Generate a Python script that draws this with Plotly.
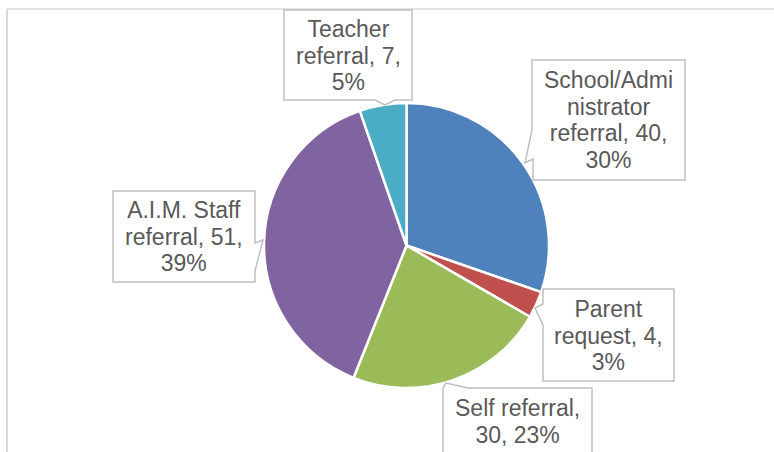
import plotly.graph_objects as go

# ---- data ----
categories = ["School/Administrator referral", "Parent request", "Self referral",
              "A.I.M. Staff referral", "Teacher referral"]
values = [40, 4, 30, 51, 7]
colors = ["#4F81BD", "#C0504D", "#9BBB59", "#8064A2", "#4BACC6"]
# label templates with the line breaks used in the callouts
label_templates = [
    "School/Admi<br>nistrator<br>referral, {v},<br>{p}%",
    "Parent<br>request, {v},<br>{p}%",
    "Self referral,<br>{v}, {p}%",
    "A.I.M. Staff<br>referral, {v},<br>{p}%",
    "Teacher<br>referral, {v},<br>{p}%",
]

W, H = 774, 452


def px(x):
    return x / W


def py(y):
    return (H - y) / H


# callout boxes (pixel geometry: box and pointer outline)
callouts = [
    [(532, 60), (685, 60), (685, 180), (533, 180), (533, 159), (525, 163), (532, 130)],
    [(543, 289), (674, 289), (674, 381), (543, 381), (543, 325), (535, 308), (543, 304)],
    [(443, 388), (446, 383), (468, 388), (592, 388), (592, 470), (443, 470)],
    [(113, 191), (255, 191), (255, 243), (263, 240), (255, 271), (255, 282), (113, 282)],
    [(284, 10), (412, 10), (412, 100), (395, 100), (385, 105), (375, 100), (284, 100)],
]
label_centers = [(608.5, 120), (608.5, 335), (517.5, 421), (184, 236.5), (348, 55)]

total = sum(values)
texts = [t.format(v=v, p=round(v / total * 100)) for t, v in zip(label_templates, values)]

fig = go.Figure()
fig.add_trace(go.Pie(
    labels=categories, values=values, sort=False, direction="clockwise", rotation=0,
    marker=dict(colors=colors, line=dict(color="white", width=2.5)),
    textinfo="none", hoverinfo="label+value+percent", showlegend=False,
    domain=dict(x=[264 / W, 549 / W], y=[py(388), py(103)]),
))

shapes = []
# chart frame (left and top edges visible)
shapes.append(dict(type="line", xref="paper", yref="paper", x0=px(7), x1=px(7), y0=py(9), y1=py(460),
                   line=dict(color="#D9D9D9", width=2)))
shapes.append(dict(type="line", xref="paper", yref="paper", x0=px(7), x1=px(780), y0=py(9), y1=py(9),
                   line=dict(color="#D9D9D9", width=1.5)))
for pts in callouts:
    path = "M " + " L ".join(f"{px(x):.5f},{py(y):.5f}" for x, y in pts) + " Z"
    shapes.append(dict(type="path", xref="paper", yref="paper", path=path, layer="above",
                       fillcolor="white", line=dict(color="#BFBFBF", width=1.5)))

annotations = []
for (cx, cy), t in zip(label_centers, texts):
    annotations.append(dict(
        x=px(cx), y=py(cy), xref="paper", yref="paper", xanchor="center", yanchor="middle",
        showarrow=False, align="center",
        text=f"<span style='font-size:23px'>{t.replace('<br>', '</span><br><span style=\"font-size:23px\">')}</span>",
        font=dict(family="Liberation Sans, Arial, sans-serif", size=20.5, color="#595959"),
    ))

fig.update_layout(
    width=W, height=H, margin=dict(l=0, r=0, t=0, b=0),
    paper_bgcolor="white", plot_bgcolor="white",
    shapes=shapes, annotations=annotations,
)
fig.write_html("out.html")
